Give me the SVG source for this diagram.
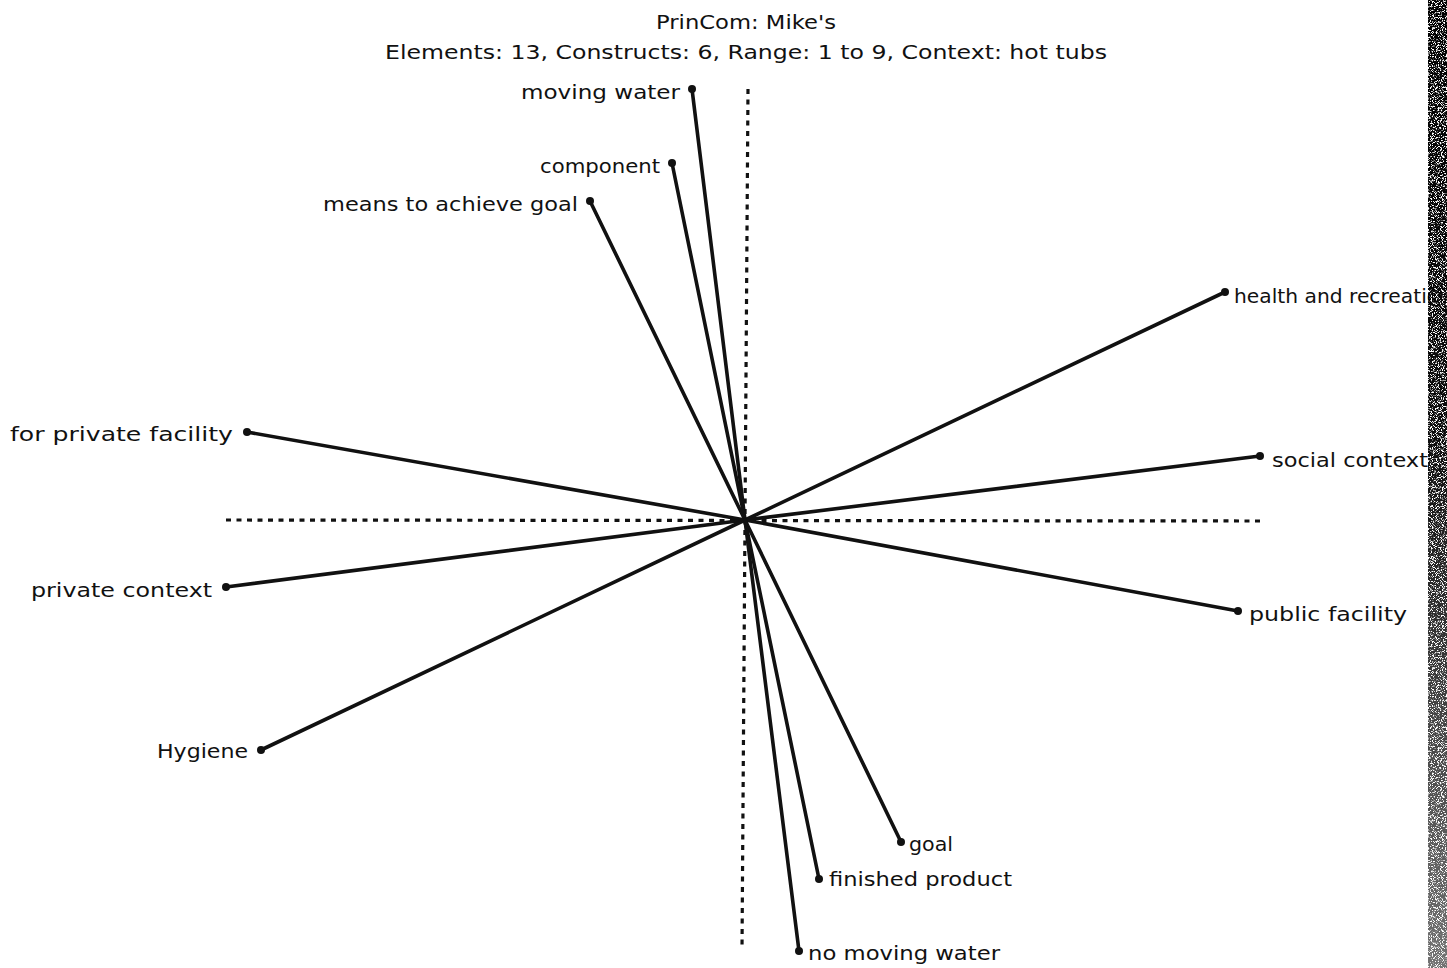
<svg xmlns="http://www.w3.org/2000/svg" width="1447" height="968" viewBox="0 0 1447 968">
  <defs>
    <style>
      .lbl { font-family: "DejaVu Sans", "Liberation Sans", sans-serif; font-size: 20px; fill: #111; }
      .ttl { font-family: "DejaVu Sans", "Liberation Sans", sans-serif; font-size: 20px; fill: #111; text-anchor: middle; }
      .end { text-anchor: end; }
      .axis { stroke: #111; stroke-width: 3.2; stroke-dasharray: 5 5.5; fill: none; }
      .ray { stroke: #111; stroke-width: 3.6; stroke-linecap: round; fill: none; }
      .dot { fill: #111; }
    </style>
    <clipPath id="pageClip">
      <rect x="0" y="0" width="1430" height="968"/>
    </clipPath>
    <filter id="grain" x="0" y="0" width="100%" height="100%">
      <feTurbulence type="fractalNoise" baseFrequency="1.2" numOctaves="2" seed="7" result="n"/>
      <feColorMatrix in="n" type="matrix" values="0 0 0 0 0  0 0 0 0 0  0 0 0 0 0  0 0 0 -7 4.6" result="spk"/>
      <feComposite in="spk" in2="SourceGraphic" operator="in"/>
    </filter>
    <linearGradient id="edgeFade" x1="0" y1="0" x2="0" y2="1">
      <stop offset="0" stop-color="#000" stop-opacity="1"/>
      <stop offset="0.45" stop-color="#000" stop-opacity="0.95"/>
      <stop offset="1" stop-color="#000" stop-opacity="0.55"/>
    </linearGradient>
  </defs>

  <rect x="0" y="0" width="1447" height="968" fill="#fff"/>

  <!-- heading -->
  <g id="title">
    <text class="ttl" x="746" y="29" textLength="180" lengthAdjust="spacingAndGlyphs">PrinCom: Mike's</text>
    <text class="ttl" x="746" y="59" textLength="722" lengthAdjust="spacingAndGlyphs">Elements: 13, Constructs: 6, Range: 1 to 9, Context: hot tubs</text>
  </g>

  <!-- principal component axes -->
  <g id="axes">
    <line class="axis" x1="226" y1="520" x2="1262" y2="521"/>
    <line class="axis" x1="748" y1="89" x2="742" y2="950"/>
  </g>

  <!-- construct poles, each ray from the origin -->
  <g id="connectors">
    <line class="ray" x1="745" y1="520" x2="692" y2="89"/>
    <line class="ray" x1="745" y1="520" x2="672" y2="163"/>
    <line class="ray" x1="745" y1="520" x2="590" y2="201"/>
    <line class="ray" x1="745" y1="520" x2="1225" y2="292"/>
    <line class="ray" x1="745" y1="520" x2="1260" y2="456"/>
    <line class="ray" x1="745" y1="520" x2="247" y2="432"/>
    <line class="ray" x1="745" y1="520" x2="226" y2="587"/>
    <line class="ray" x1="745" y1="520" x2="1238" y2="611"/>
    <line class="ray" x1="745" y1="520" x2="261" y2="750"/>
    <line class="ray" x1="745" y1="520" x2="901" y2="842"/>
    <line class="ray" x1="745" y1="520" x2="819" y2="879"/>
    <line class="ray" x1="745" y1="520" x2="799" y2="951"/>
  </g>

  <g id="moving-water">
    <circle class="dot" cx="692" cy="89" r="4"/>
    <text class="lbl end" x="680" y="99" textLength="159" lengthAdjust="spacingAndGlyphs">moving water</text>
  </g>
  <g id="component">
    <circle class="dot" cx="672" cy="163" r="4"/>
    <text class="lbl end" x="660" y="173" textLength="120" lengthAdjust="spacingAndGlyphs">component</text>
  </g>
  <g id="means-to-achieve-goal">
    <circle class="dot" cx="590" cy="201" r="4"/>
    <text class="lbl end" x="578" y="211" textLength="255" lengthAdjust="spacingAndGlyphs">means to achieve goal</text>
  </g>
  <g id="health-and-recreation" clip-path="url(#pageClip)">
    <circle class="dot" cx="1225" cy="292" r="4"/>
    <text class="lbl" x="1234" y="303" textLength="218" lengthAdjust="spacingAndGlyphs">health and recreation</text>
  </g>
  <g id="social-context">
    <circle class="dot" cx="1260" cy="456" r="4"/>
    <text class="lbl" x="1272" y="467" textLength="156" lengthAdjust="spacingAndGlyphs">social context</text>
  </g>
  <g id="for-private-facility">
    <circle class="dot" cx="247" cy="432" r="4"/>
    <text class="lbl end" x="233" y="441" textLength="223" lengthAdjust="spacingAndGlyphs">for private facility</text>
  </g>
  <g id="private-context">
    <circle class="dot" cx="226" cy="587" r="4"/>
    <text class="lbl end" x="212" y="597" textLength="181" lengthAdjust="spacingAndGlyphs">private context</text>
  </g>
  <g id="public-facility">
    <circle class="dot" cx="1238" cy="611" r="4"/>
    <text class="lbl" x="1249" y="621" textLength="158" lengthAdjust="spacingAndGlyphs">public facility</text>
  </g>
  <g id="hygiene">
    <circle class="dot" cx="261" cy="750" r="4"/>
    <text class="lbl end" x="248" y="758" textLength="91" lengthAdjust="spacingAndGlyphs">Hygiene</text>
  </g>
  <g id="goal">
    <circle class="dot" cx="901" cy="842" r="4"/>
    <text class="lbl" x="909" y="851" textLength="44" lengthAdjust="spacingAndGlyphs">goal</text>
  </g>
  <g id="finished-product">
    <circle class="dot" cx="819" cy="879" r="4"/>
    <text class="lbl" x="829" y="886" textLength="183" lengthAdjust="spacingAndGlyphs">finished product</text>
  </g>
  <g id="no-moving-water">
    <circle class="dot" cx="799" cy="951" r="4"/>
    <text class="lbl" x="808" y="960" textLength="192" lengthAdjust="spacingAndGlyphs">no moving water</text>
  </g>

  <!-- worn right margin of the sheet -->
  <g id="margin">
    <rect x="1428" y="0" width="19" height="968" fill="url(#edgeFade)" filter="url(#grain)"/>
  </g>
</svg>
